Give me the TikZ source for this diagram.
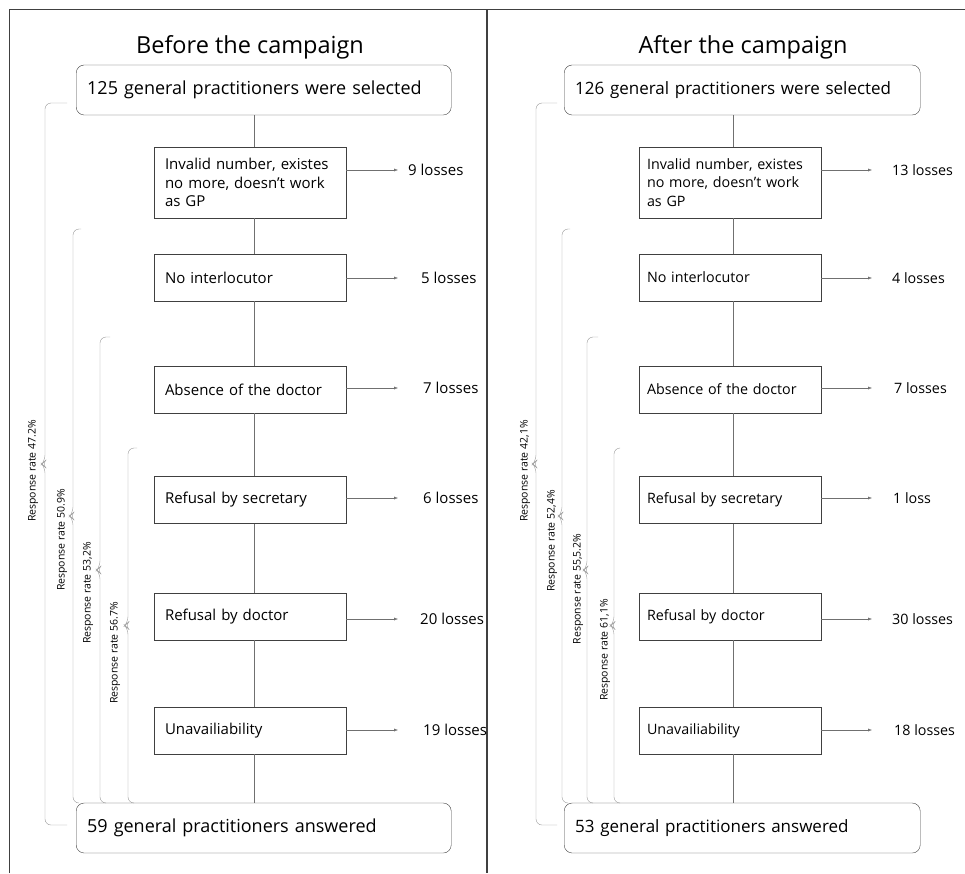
\documentclass[tikz,border=0pt]{standalone}
\usepackage{fontspec}
\setmainfont{Open Sans}
\usepackage{tikz}
\usetikzlibrary{arrows.meta}
\definecolor{framegray}{HTML}{404040}
\definecolor{linegray}{HTML}{707070}
\definecolor{bracegray}{HTML}{999999}
% x: bracket line, #2/#3: top and bottom, #4/#5: hook ends
\newcommand\ratebrace[5]{%
	\draw[brk] (#4,#2) -- (#1,#2) -- (#1,{(#2+#3)/2-3}) -- ({#1-3},{(#2+#3)/2}) -- (#1,{(#2+#3)/2+3}) -- (#1,#3) -- (#5,#3);}

\begin{document}
\begin{tikzpicture}[x=1pt, y=-1pt,
	title/.style={font=\fontsize{23.5}{28}\selectfont},
	endbox/.style={draw=framegray, rounded corners=8pt, minimum height=50pt, inner xsep=11pt, align=left, anchor=west, font=\fontsize{18}{21}\selectfont},
	stepbox/.style={draw=framegray, fill=white, minimum height=47pt, inner xsep=11pt, text width=170pt, align=left, font=\fontsize{15}{18.5}\selectfont},
	loss/.style={inner sep=0pt, anchor=west, font=\fontsize{15}{18}\selectfont},
	endboxR/.style={endbox, font=\fontsize{17}{20}\selectfont},
	stepboxR/.style={stepbox, inner xsep=8pt, text width=166pt, font=\fontsize{14.3}{18.5}\selectfont},
	lossR/.style={loss, font=\fontsize{14.3}{17}\selectfont},
	lossarrow/.style={draw=linegray, -{Latex[length=4pt,width=3pt]}},
	stem/.style={draw=linegray},
	brk/.style={draw=bracegray, rounded corners=6pt},
	rate/.style={rotate=90, inner sep=0pt, font=\fontsize{10.5}{12}\selectfont}]
	\useasboundingbox (0,0) rectangle (965,873);
	% frame
	\draw[framegray] (9,873) -- (9,9) -- (965,9);
	\draw[framegray, line width=1.6pt] (487,9) -- (487,873);

	% before the campaign
	\node[title] (titleL) at (250,47) {Before the campaign};
	\node[endbox, text width=353pt] (topL) at (76,90) {125 general practitioners were selected};
	\node[stepbox, minimum height=71pt] (b1L) at (250,182.5) {Invalid number, existes\\no more, doesn’t work\\as GP};
	\node[stepbox] (b2L) at (250,277.5) {No interlocutor};
	\node[stepbox] (b3L) at (250,389.5) {Absence of the doctor};
	\node[stepbox] (b4L) at (250,500) {Refusal by secretary};
	\node[stepbox] (b5L) at (250,616.5) {Refusal by doctor};
	\node[stepbox] (b6L) at (250,730.5) {Unavailiability};
	\node[endbox, text width=353pt] (botL) at (76,828) {59 general practitioners answered};
	\coordinate (tipL) at (398,0);
	\node[loss] (l1L) at (408,170) {9 losses};
	\node[loss] (l2L) at (421,278) {5 losses};
	\node[loss] (l3L) at (423,388) {7 losses};
	\node[loss] (l4L) at (423,498) {6 losses};
	\node[loss] (l5L) at (420,619) {20 losses};
	\node[loss] (l6L) at (423,730) {19 losses};
	\draw[stem] ([xshift=4pt]b1L.north |- topL.south) -- ([xshift=4pt]b1L.north);
	\draw[stem] ([xshift=4pt]b1L.south) -- ([xshift=4pt]b2L.north);
	\draw[stem] ([xshift=4pt]b2L.south) -- ([xshift=4pt]b3L.north);
	\draw[stem] ([xshift=4pt]b3L.south) -- ([xshift=4pt]b4L.north);
	\draw[stem] ([xshift=4pt]b4L.south) -- ([xshift=4pt]b5L.north);
	\draw[stem] ([xshift=4pt]b5L.south) -- ([xshift=4pt]b6L.north);
	\draw[stem] ([xshift=4pt]b6L.south) -- ([xshift=4pt]b6L.south |- botL.north);
	\draw[lossarrow] (b1L.east |- l1L.west) -- (tipL |- l1L.west);
	\draw[lossarrow] (b2L.east |- l2L.west) -- (tipL |- l2L.west);
	\draw[lossarrow] (b3L.east |- l3L.west) -- (tipL |- l3L.west);
	\draw[lossarrow] (b4L.east |- l4L.west) -- (tipL |- l4L.west);
	\draw[lossarrow] (b5L.east |- l5L.west) -- (tipL |- l5L.west);
	\draw[lossarrow] (b6L.east |- l6L.west) -- (tipL |- l6L.west);
	\ratebrace{45}{103}{825}{67}{67}
	\ratebrace{73}{229}{803}{81}{79}
	\ratebrace{100}{337}{803}{110}{106}
	\ratebrace{128}{448}{803}{137}{134}
	\node[rate] (r1L) at (33,471) {Response rate 47.2\%};
	\node[rate] (r2L) at (62,540) {Response rate 50.9\%};
	\node[rate] (r3L) at (88,593) {Response rate 53,2\%};
	\node[rate] (r4L) at (115,653) {Response rate 56.7\%};

	% after the campaign
	\node[title] (titleR) at (743,47) {After the campaign};
	\node[endboxR, text width=334pt] (topR) at (564,90) {126 general practitioners were selected};
	\node[stepboxR, minimum height=71pt] (b1R) at (730,182.5) {Invalid number, existes\\no more, doesn’t work\\as GP};
	\node[stepboxR] (b2R) at (730,277.5) {No interlocutor};
	\node[stepboxR] (b3R) at (730,389.5) {Absence of the doctor};
	\node[stepboxR] (b4R) at (730,500) {Refusal by secretary};
	\node[stepboxR] (b5R) at (730,616.5) {Refusal by doctor};
	\node[stepboxR] (b6R) at (730,730.5) {Unavailiability};
	\node[endboxR, text width=334pt] (botR) at (564,828) {53 general practitioners answered};
	\coordinate (tipR) at (872,0);
	\node[lossR] (l1R) at (892,170) {13 losses};
	\node[lossR] (l2R) at (892,278) {4 losses};
	\node[lossR] (l3R) at (894,388) {7 losses};
	\node[lossR] (l4R) at (893,498) {1 loss};
	\node[lossR] (l5R) at (892,619) {30 losses};
	\node[lossR] (l6R) at (894,730) {18 losses};
	\draw[stem] ([xshift=3pt]b1R.north |- topR.south) -- ([xshift=3pt]b1R.north);
	\draw[stem] ([xshift=3pt]b1R.south) -- ([xshift=3pt]b2R.north);
	\draw[stem] ([xshift=3pt]b2R.south) -- ([xshift=3pt]b3R.north);
	\draw[stem] ([xshift=3pt]b3R.south) -- ([xshift=3pt]b4R.north);
	\draw[stem] ([xshift=3pt]b4R.south) -- ([xshift=3pt]b5R.north);
	\draw[stem] ([xshift=3pt]b5R.south) -- ([xshift=3pt]b6R.north);
	\draw[stem] ([xshift=3pt]b6R.south) -- ([xshift=3pt]b6R.south |- botR.north);
	\draw[lossarrow] (b1R.east |- l1R.west) -- (tipR |- l1R.west);
	\draw[lossarrow] (b2R.east |- l2R.west) -- (tipR |- l2R.west);
	\draw[lossarrow] (b3R.east |- l3R.west) -- (tipR |- l3R.west);
	\draw[lossarrow] (b4R.east |- l4R.west) -- (tipR |- l4R.west);
	\draw[lossarrow] (b5R.east |- l5R.west) -- (tipR |- l5R.west);
	\draw[lossarrow] (b6R.east |- l6R.west) -- (tipR |- l6R.west);
	\ratebrace{536}{103}{825}{557}{557}
	\ratebrace{562}{229}{803}{570}{567}
	\ratebrace{587}{337}{803}{598}{593}
	\ratebrace{614}{448}{803}{620}{620}
	\node[rate] (r1R) at (525,471) {Response rate 42,1\%};
	\node[rate] (r2R) at (552,541) {Response rate 52,4\%};
	\node[rate] (r3R) at (578,589) {Response rate 55,5.2\%};
	\node[rate] (r4R) at (605,650) {Response rate 61,1\%};
\end{tikzpicture}
\end{document}
